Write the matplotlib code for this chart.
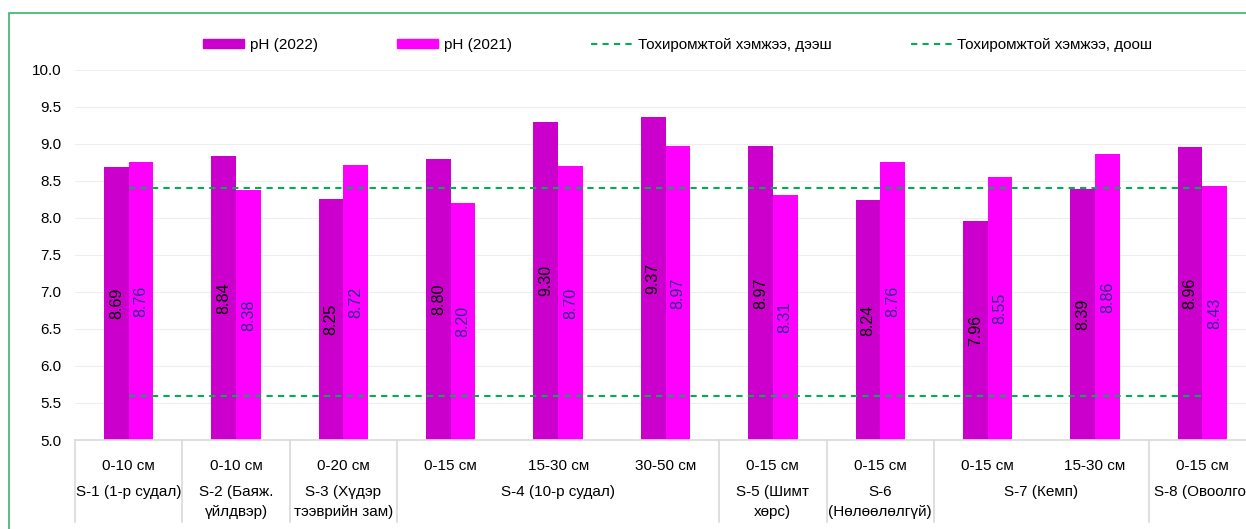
# pH of soil samples, 2022 vs 2021, with the suitable range (5.6 .. 8.4) drawn as dashed lines.
# Two-level category axis: depth on the first row, sampling site underneath.
import matplotlib
matplotlib.use('Agg')
import matplotlib.pyplot as plt
from matplotlib.patches import Rectangle
from matplotlib.lines import Line2D
from matplotlib.transforms import blended_transform_factory

plt.rcParams['font.family'] = ['Liberation Sans', 'DejaVu Sans']

depths = ['0-10 см', '0-10 см', '0-20 см', '0-15 см', '15-30 см', '30-50 см',
          '0-15 см', '0-15 см', '0-15 см', '15-30 см', '0-15 см']
ph_2022 = [8.69, 8.84, 8.25, 8.80, 9.30, 9.37, 8.97, 8.24, 7.96, 8.39, 8.96]
ph_2021 = [8.76, 8.38, 8.72, 8.20, 8.70, 8.97, 8.31, 8.76, 8.55, 8.86, 8.43]
upper_limit = [8.4] * len(depths)
lower_limit = [5.6] * len(depths)

sites = ['S-1 (1-р судал)', 'S-2 (Баяж.\nүйлдвэр)', 'S-3 (Хүдэр\nтээврийн зам)',
         'S-4 (10-р судал)', 'S-5 (Шимт\nхөрс)', 'S-6\n(Нөлөөлөлгүй)',
         'S-7 (Кемп)', 'S-8 (Овоолго)']
site_sizes = [1, 1, 1, 3, 1, 1, 2, 1]

C22, C21, GREEN = '#CC00CC', '#FF00FF', '#00B050'
AXGREY = '#d9d9d9'
FS = 11

fig = plt.figure(figsize=(12.46, 5.29), dpi=100)
ax = fig.add_axes([75 / 1246, 89 / 529, 1181 / 1246, 370 / 529])

# chart border (cut off on the right and bottom in the original)
fig.patches.append(Rectangle((9 / 1246, -0.1), 1.2, 1.1 - 13 / 529,
                             transform=fig.transFigure, fill=False,
                             edgecolor='#3cb36a', lw=1.2, zorder=0))

x = list(range(len(depths)))
w = 0.23
base = 5.0
ax.bar([i - w / 2 for i in x], [v - base for v in ph_2022], w, bottom=base,
       color=C22, label='pH (2022)', zorder=2)
ax.bar([i + w / 2 for i in x], [v - base for v in ph_2021], w, bottom=base,
       color=C21, label='pH (2021)', zorder=2)

for i in x:
    ax.text(i - w / 2, (base + ph_2022[i]) / 2, f'{ph_2022[i]:.2f}', rotation=90,
            ha='center', va='center', fontsize=11.5, color='black', zorder=4)
    ax.text(i + w / 2, (base + ph_2021[i]) / 2, f'{ph_2021[i]:.2f}', rotation=90,
            ha='center', va='center', fontsize=11.5, color='#2c2c8c', zorder=4)

dash = (0, (3, 2.5))
ax.plot(x, upper_limit, color=GREEN, lw=1.5, ls=dash, zorder=3,
        label='Тохиромжтой хэмжээ, дээш')
ax.plot(x, lower_limit, color=GREEN, lw=1.5, ls=dash, zorder=3,
        label='Тохиромжтой хэмжээ, доош')

ax.set_xlim(-0.5, len(depths) - 0.5)
ax.set_ylim(5.0, 10.0)
ax.set_yticks([5.0 + 0.5 * k for k in range(11)])
ax.set_yticklabels([f'{5.0 + 0.5 * k:.1f}' for k in range(11)], fontsize=FS)
ax.tick_params(axis='y', length=0, pad=10)
ax.yaxis.grid(True, color='#eeeeee', lw=0.8, zorder=0)
ax.set_axisbelow(True)
for s in ('top', 'right', 'left'):
    ax.spines[s].set_visible(False)
ax.spines['bottom'].set_color(AXGREY)
ax.spines['bottom'].set_linewidth(1.2)

# first level: depth
ax.set_xticks(x)
ax.set_xticklabels(depths, fontsize=FS)
ax.tick_params(axis='x', length=0, pad=14)

# second level: site names and separators
tr = blended_transform_factory(ax.transData, ax.transAxes)
sep_bottom = -82 / 370
start = 0
for name, n in zip(sites, site_sizes):
    ax.plot([start - 0.5, start - 0.5], [0, sep_bottom], color=AXGREY, lw=1.2,
            transform=tr, clip_on=False)
    ax.text(start + (n - 1) / 2, -45 / 370, name, transform=tr, ha='center', va='top',
            fontsize=FS, linespacing=1.55)
    start += n
ax.plot([start - 0.5, start - 0.5], [0, sep_bottom], color=AXGREY, lw=1.2,
        transform=tr, clip_on=False)

handles = [Rectangle((0, 0), 1, 1, color=C22), Rectangle((0, 0), 1, 1, color=C21),
           Line2D([], [], color=GREEN, lw=1.5, ls=dash),
           Line2D([], [], color=GREEN, lw=1.5, ls=dash)]
labels = ['pH (2022)', 'pH (2021)', 'Тохиромжтой хэмжээ, дээш', 'Тохиромжтой хэмжээ, доош']
fig.legend(handles, labels, loc='center left', bbox_to_anchor=(203 / 1246, 1 - 45 / 529),
           ncol=4, frameon=False, fontsize=FS, handlelength=2.7, handleheight=0.5,
           handletextpad=0.35, columnspacing=5.2, borderpad=0, borderaxespad=0)

fig.savefig('out.png', dpi=100, facecolor='white')
